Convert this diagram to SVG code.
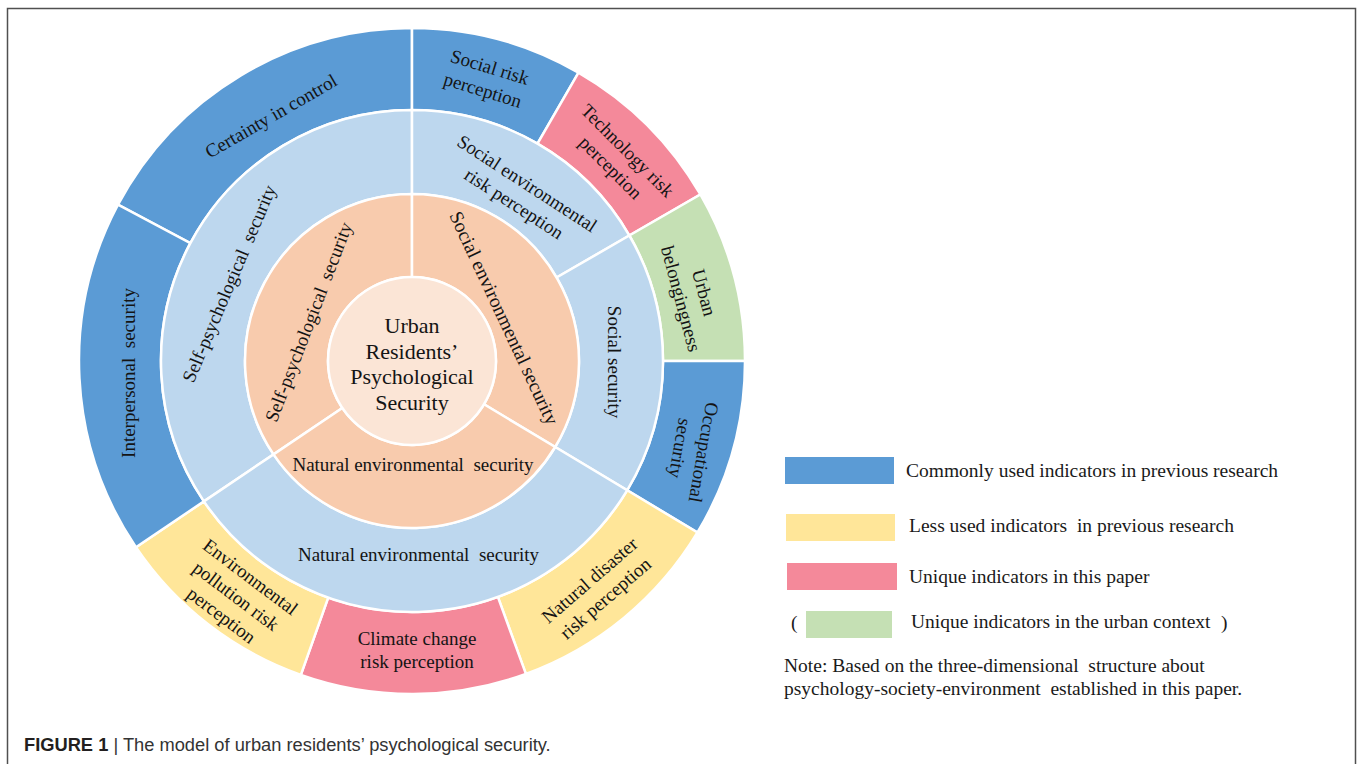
<svg xmlns="http://www.w3.org/2000/svg" width="1357" height="764" viewBox="0 0 1357 764">
<style>
.t{font-family:"Liberation Serif","Times New Roman",serif;font-size:19px;fill:#141414;}
.pre{white-space:pre;}
.seg{stroke:#ffffff;stroke-width:2.5;stroke-linejoin:miter;}
.blue{fill:#5B9BD5;}
.lblue{fill:#BDD7EE;}
.orange{fill:#F8CBAD;}
.core{fill:#FBE5D6;}
.pink{fill:#F4899A;}
.yellow{fill:#FFE699;}
.green{fill:#C5E0B4;}
.lg{font-family:"Liberation Serif","Times New Roman",serif;font-size:19.5px;fill:#1a1a1a;}
.cap{font-family:"Liberation Sans",Arial,sans-serif;font-size:18.3px;fill:#333333;}
</style>
<rect width="1357" height="764" fill="#ffffff"/>
<path d="M7.5,770 V8.5 H1355.5 V770" fill="none" stroke="#505050" stroke-width="1.5"/>

<!-- outer ring -->
<g id="certainty-in-control">
<path class="seg blue" d="M117.98,204.67 A333,333 0 0 1 412,28 L412,110 A251,251 0 0 0 190.38,243.16 Z"/>
<text class="t" text-anchor="middle" transform="translate(271,116) rotate(-30)" x="0" y="6.5">Certainty in control</text>
</g>
<g id="social-risk-perception">
<path class="seg blue" d="M412,28 A333,333 0 0 1 578.5,72.61 L537.5,143.63 A251,251 0 0 0 412,110 Z"/>
<text class="t" text-anchor="middle" transform="translate(486.3,78.5) rotate(17)"><tspan x="0" y="-5.5">Social risk</tspan><tspan x="0" y="18.5">perception</tspan></text>
</g>
<g id="technology-risk-perception">
<path class="seg pink" d="M578.5,72.61 A333,333 0 0 1 700.39,194.5 L629.37,235.5 A251,251 0 0 0 537.5,143.63 Z"/>
<text class="t" text-anchor="middle" transform="translate(619.2,159) rotate(45)"><tspan x="0" y="-5.5">Technology risk</tspan><tspan x="0" y="18.5">perception</tspan></text>
</g>
<g id="urban-belongingness">
<path class="seg green" d="M700.39,194.5 A333,333 0 0 1 745,361 L663,361 A251,251 0 0 0 629.37,235.5 Z"/>
<text class="t" text-anchor="middle" transform="translate(692.7,295.7) rotate(75)"><tspan x="0" y="-5.5">Urban</tspan><tspan x="0" y="18.5">belongingness</tspan></text>
</g>
<g id="occupational-security">
<path class="seg blue" d="M745,361 A333,333 0 0 1 697.44,532.51 L627.15,490.28 A251,251 0 0 0 663,361 Z"/>
<text class="t" text-anchor="middle" transform="translate(692,450.4) rotate(100)"><tspan x="0" y="-5.5">Occupational</tspan><tspan x="0" y="18.5">security</tspan></text>
</g>
<g id="natural-disaster-risk-perception">
<path class="seg yellow" d="M697.44,532.51 A333,333 0 0 1 525.89,673.92 L497.85,596.86 A251,251 0 0 0 627.15,490.28 Z"/>
<text class="t" text-anchor="middle" transform="translate(597.4,589.2) rotate(-41)"><tspan x="0" y="-5.5">Natural disaster</tspan><tspan x="0" y="18.5">risk perception</tspan></text>
</g>
<g id="climate-change-risk-perception">
<path class="seg pink" d="M525.89,673.92 A333,333 0 0 1 300.84,674.9 L328.21,597.6 A251,251 0 0 0 497.85,596.86 Z"/>
<text class="t" text-anchor="middle"><tspan x="417" y="644.5">Climate change</tspan><tspan x="417" y="668">risk perception</tspan></text>
</g>
<g id="environmental-pollution-risk-perception">
<path class="seg yellow" d="M300.84,674.9 A333,333 0 0 1 135.93,547.21 L203.91,501.36 A251,251 0 0 0 328.21,597.6 Z"/>
<text class="t" text-anchor="middle" transform="translate(236,596) rotate(37)"><tspan x="0" y="-17.5">Environmental</tspan><tspan x="0" y="6.5">pollution risk</tspan><tspan x="0" y="30.5">perception</tspan></text>
</g>
<g id="interpersonal-security">
<path class="seg blue" d="M135.93,547.21 A333,333 0 0 1 117.98,204.67 L190.38,243.16 A251,251 0 0 0 203.91,501.36 Z"/>
<text class="t pre" text-anchor="middle" transform="translate(128,373) rotate(-90)" x="0" y="6.5">Interpersonal  security</text>
</g>

<!-- middle ring -->
<g id="mid-self-psychological-security">
<path class="seg lblue" d="M203.91,501.36 A251,251 0 0 1 412,110 L412,194 A167,167 0 0 0 273.55,454.38 Z"/>
<text class="t pre" text-anchor="middle" transform="translate(229,283.5) rotate(-67)" x="0" y="6.5">Self-psychological  security</text>
</g>
<g id="mid-social-environmental-risk-perception">
<path class="seg lblue" d="M412,110 A251,251 0 0 1 629.37,235.5 L556.63,277.5 A167,167 0 0 0 412,194 Z"/>
<text class="t" text-anchor="middle" transform="translate(520.7,193.4) rotate(33)"><tspan x="0" y="-5.5">Social environmental</tspan><tspan x="0" y="18.5">risk perception</tspan></text>
</g>
<g id="mid-social-security">
<path class="seg lblue" d="M629.37,235.5 A251,251 0 0 1 627.15,490.28 L555.15,447.01 A167,167 0 0 0 556.63,277.5 Z"/>
<text class="t" text-anchor="middle" transform="translate(614,362) rotate(90)" x="0" y="6.5">Social security</text>
</g>
<g id="mid-natural-environmental-security">
<path class="seg lblue" d="M627.15,490.28 A251,251 0 0 1 203.91,501.36 L273.55,454.38 A167,167 0 0 0 555.15,447.01 Z"/>
<text class="t pre" text-anchor="middle" x="418.5" y="561">Natural environmental  security</text>
</g>

<!-- inner ring -->
<g id="inner-self-psychological-security">
<path class="seg orange" d="M273.55,454.38 A167,167 0 0 1 412,194 L412,277 A84,84 0 0 0 342.36,407.97 Z"/>
<text class="t pre" text-anchor="middle" transform="translate(308.5,322) rotate(-69)" x="0" y="6.5">Self-psychological  security</text>
</g>
<g id="inner-social-environmental-security">
<path class="seg orange" d="M412,194 A167,167 0 0 1 555.15,447.01 L484,404.26 A84,84 0 0 0 412,277 Z"/>
<text class="t" text-anchor="middle" style="font-size:19.5px" transform="translate(504,318) rotate(65)" x="0" y="6.5">Social environmental security</text>
</g>
<g id="inner-natural-environmental-security">
<path class="seg orange" d="M555.15,447.01 A167,167 0 0 1 273.55,454.38 L342.36,407.97 A84,84 0 0 0 484,404.26 Z"/>
<text class="t pre" text-anchor="middle" x="413" y="471">Natural environmental  security</text>
</g>

<!-- core -->
<g id="core">
<circle class="seg core" cx="412" cy="361" r="84"/>
<text class="t" text-anchor="middle" style="font-size:22px"><tspan x="412" y="333">Urban</tspan><tspan x="412" y="358.5">Residents’</tspan><tspan x="412" y="384">Psychological</tspan><tspan x="412" y="409.5">Security</tspan></text>
</g>

<!-- legend -->
<g id="legend">
<rect class="blue" x="785" y="457" width="109" height="27"/>
<text class="lg" x="906" y="477">Commonly used indicators in previous research</text>
<rect class="yellow" x="786" y="514" width="109" height="27"/>
<text class="lg pre" x="909" y="532">Less used indicators  in previous research</text>
<rect class="pink" x="787" y="563" width="110" height="27"/>
<text class="lg" x="909" y="583">Unique indicators in this paper</text>
<text class="lg" x="791" y="629">(</text>
<rect class="green" x="806" y="611" width="86" height="27"/>
<text class="lg" x="911" y="628">Unique indicators in the urban context</text>
<text class="lg" x="1221" y="629">)</text>
</g>
<g id="note">
<text class="lg pre" x="784" y="672">Note: Based on the three-dimensional  structure about</text>
<text class="lg pre" x="784" y="695">psychology-society-environment  established in this paper.</text>
</g>
<g id="caption">
<text class="cap" x="24" y="751"><tspan style="font-weight:bold;fill:#231f20">FIGURE 1</tspan> | The model of urban residents’ psychological security.</text>
</g>
</svg>
